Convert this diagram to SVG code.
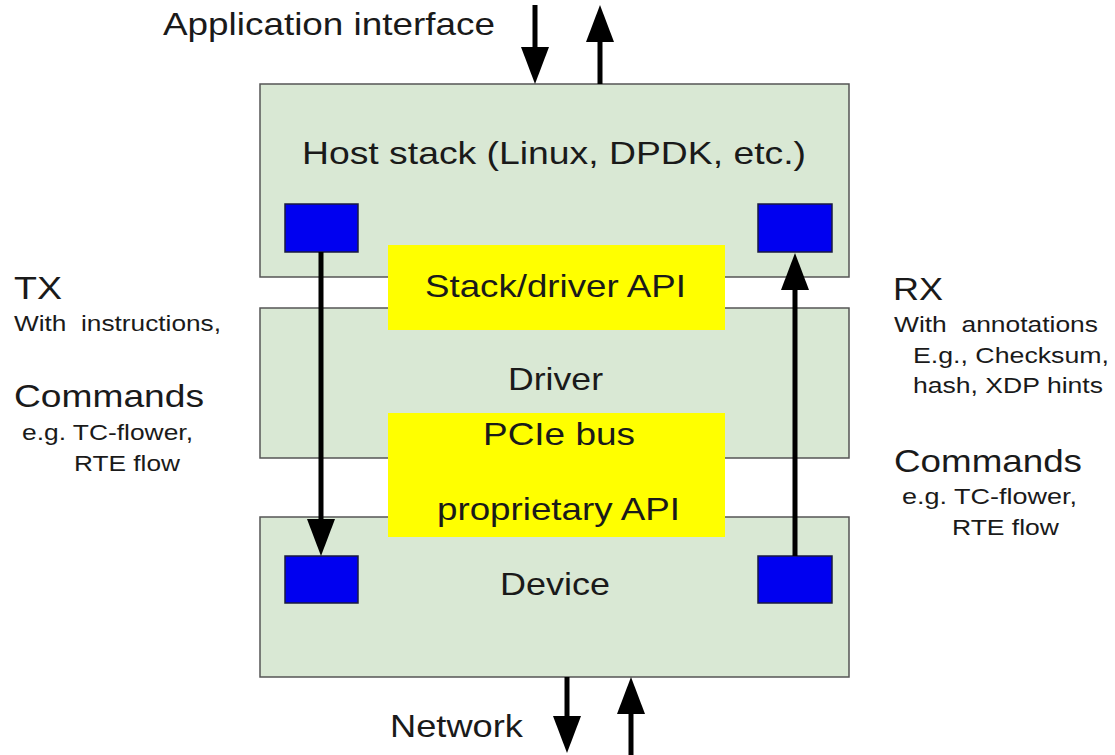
<svg xmlns="http://www.w3.org/2000/svg" width="1115" height="755" viewBox="0 0 1115 755">
  <style>
    .layer { fill: #d9e8d4; stroke: #555; stroke-width: 1.5; }
    .api { fill: #ffff00; stroke: none; }
    .queue { fill: #0000f0; stroke: #1a1a40; stroke-width: 1.5; }
    .big { font-family: "Liberation Sans", Arial, sans-serif; font-size: 32px; fill: #1a1a1a; }
    .small { font-family: "Liberation Sans", Arial, sans-serif; font-size: 22px; fill: #1a1a1a; }
    .wire { stroke: #000; stroke-width: 5; fill: none; }
  </style>
  <defs>
    <!-- arrowhead: base sits on the line end, 37 px long, 28 px wide -->
    <marker id="head" viewBox="0 0 10 10" refX="0" refY="5" markerWidth="7.4" markerHeight="5.6" markerUnits="strokeWidth" orient="auto" preserveAspectRatio="none">
      <path d="M0,0 L10,5 L0,10 Z" fill="#000"/>
    </marker>
  </defs>
  <rect width="1115" height="755" fill="#fff"/>

  <!-- stack layers -->
  <g id="host-stack">
    <rect class="layer" x="260" y="84" width="589" height="193"/>
    <text class="big" x="302" y="164" font-size="31" textLength="504" lengthAdjust="spacingAndGlyphs">Host stack (Linux, DPDK, etc.)</text>
    <rect class="queue" x="285" y="204" width="73" height="48"/>
    <rect class="queue" x="758" y="204" width="74" height="48"/>
  </g>
  <g id="driver">
    <rect class="layer" x="260" y="308" width="589" height="150"/>
    <text class="big" x="508" y="390" textLength="95" lengthAdjust="spacingAndGlyphs">Driver</text>
  </g>
  <g id="device">
    <rect class="layer" x="260" y="517" width="589" height="160"/>
    <text class="big" x="500" y="595" textLength="110" lengthAdjust="spacingAndGlyphs">Device</text>
    <rect class="queue" x="285" y="556" width="73" height="47"/>
    <rect class="queue" x="758" y="556" width="74" height="47"/>
  </g>
  <g id="stack-driver-api">
    <rect class="api" x="388" y="245" width="337" height="85"/>
    <text class="big" x="425" y="297" textLength="261" lengthAdjust="spacingAndGlyphs">Stack/driver API</text>
  </g>
  <g id="pcie-api">
    <rect class="api" x="388" y="413" width="337" height="124"/>
    <text class="big" x="483" y="445" textLength="152" lengthAdjust="spacingAndGlyphs">PCIe bus</text>
    <text class="big" x="437" y="520" textLength="243" lengthAdjust="spacingAndGlyphs">proprietary API</text>
  </g>

  <!-- flows -->
  <g id="connectors">
    <line class="wire" x1="321" y1="252" x2="321" y2="519" marker-end="url(#head)"/>
    <line class="wire" x1="795" y1="556" x2="795" y2="290" marker-end="url(#head)"/>
    <line class="wire" x1="535" y1="5" x2="535" y2="47" marker-end="url(#head)"/>
    <line class="wire" x1="600" y1="84" x2="600" y2="42" marker-end="url(#head)"/>
    <line class="wire" x1="567" y1="677" x2="567" y2="716" marker-end="url(#head)"/>
    <line class="wire" x1="631" y1="755" x2="631" y2="714" marker-end="url(#head)"/>
  </g>

  <!-- side notes -->
  <g id="app-label">
    <text class="big" x="163" y="35" font-size="33" textLength="332" lengthAdjust="spacingAndGlyphs">Application interface</text>
  </g>
  <g id="network-label">
    <text class="big" x="390" y="737" textLength="133" lengthAdjust="spacingAndGlyphs">Network</text>
  </g>
  <g id="tx-notes">
    <text class="big" x="14" y="299" textLength="48" lengthAdjust="spacingAndGlyphs">TX</text>
    <text class="small" x="14" y="331" xml:space="preserve" textLength="207" lengthAdjust="spacingAndGlyphs">With  instructions,</text>
    <text class="big" x="14" y="407" textLength="190" lengthAdjust="spacingAndGlyphs">Commands</text>
    <text class="small" x="22" y="440" textLength="171" lengthAdjust="spacingAndGlyphs">e.g. TC-flower,</text>
    <text class="small" x="74" y="471" textLength="106" lengthAdjust="spacingAndGlyphs">RTE flow</text>
  </g>
  <g id="rx-notes">
    <text class="big" x="893" y="300" textLength="50" lengthAdjust="spacingAndGlyphs">RX</text>
    <text class="small" x="894" y="332" xml:space="preserve" textLength="204" lengthAdjust="spacingAndGlyphs">With  annotations</text>
    <text class="small" x="913" y="363" textLength="196" lengthAdjust="spacingAndGlyphs">E.g., Checksum,</text>
    <text class="small" x="913" y="393" textLength="190" lengthAdjust="spacingAndGlyphs">hash, XDP hints</text>
    <text class="big" x="894" y="472" textLength="188" lengthAdjust="spacingAndGlyphs">Commands</text>
    <text class="small" x="902" y="504" textLength="175" lengthAdjust="spacingAndGlyphs">e.g. TC-flower,</text>
    <text class="small" x="952" y="535" textLength="107" lengthAdjust="spacingAndGlyphs">RTE flow</text>
  </g>
</svg>
